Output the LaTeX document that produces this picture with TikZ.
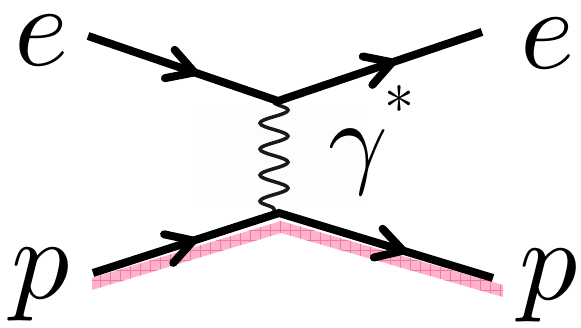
\documentclass[tikz,border=0pt]{standalone}
\usetikzlibrary{decorations.pathmorphing,decorations.markings}
\definecolor{bandpink}{RGB}{255,178,205}
\definecolor{gridpink}{RGB}{242,120,165}
\definecolor{faint}{RGB}{253,253,253}
\tikzset{
  fline/.style={line width=8pt, line join=miter, line cap=butt},
  chev/.style={decoration={markings, mark=at position #1 with {\draw[line width=8pt, line cap=round, line join=round] (-26,15)--(0,0)--(-26,-15);}}, decorate},
  lbl/.style={inner sep=0pt},
  photon/.style={decorate, decoration={snake, amplitude=14pt, segment length=26pt}, line width=3.5pt, black!90},
}
\begin{document}
\begin{tikzpicture}[x=1pt,y=-1pt]
\useasboundingbox (0,0) rectangle (581,328);
% faint background
\fill[faint] (198,105) rectangle (362,206);
% coordinates
\coordinate (ein) at (88,36);
\coordinate (v1) at (278,101);
\coordinate (eout) at (482,32);
\coordinate (pin) at (93,273);
\coordinate (v2) at (279,213);
\coordinate (pout) at (493,278);
\coordinate (g1) at (274,102);
\coordinate (g2) at (274,212);
% pink band
\begin{scope}
  \path[clip] (92,278)--(281,221)--(503,285)--(503,297)--(281,233)--(92,290)--cycle;
  \fill[bandpink] (80,210) rectangle (510,300);
  \draw[gridpink, line width=0.6pt, xstep=10pt, ystep=10pt] (80,210) grid (510,300);
\end{scope}
% photon
\draw[photon] (g1) -- (g2);
% fermion lines
\draw[fline] (ein) -- (v1) -- (eout);
\draw[fline] (pin) -- (v2) -- (pout);
\path[chev=0.56] (ein) -- (v1);
\path[chev=0.56] (v1) -- (eout);
\path[chev=0.54] (pin) -- (v2);
\path[chev=0.58] (v2) -- (pout);
% labels
\node[lbl] (le1) at (42,41) {\scalebox{11.6}{$e$}};
\node[lbl] (le2) at (548,44) {\scalebox{11.6}{$e$}};
\node[lbl] (lp1) at (41,285) {\scalebox{11.6}{$p$}};
\node[lbl] (lp2) at (549,286) {\scalebox{11.6}{$p$}};
\node[lbl] (lg) at (358,162) {\scalebox{10.4}{$\gamma$}};
\node[lbl] (ls) at (399,108) {\scalebox{6}{*}};
\end{tikzpicture}
\end{document}
